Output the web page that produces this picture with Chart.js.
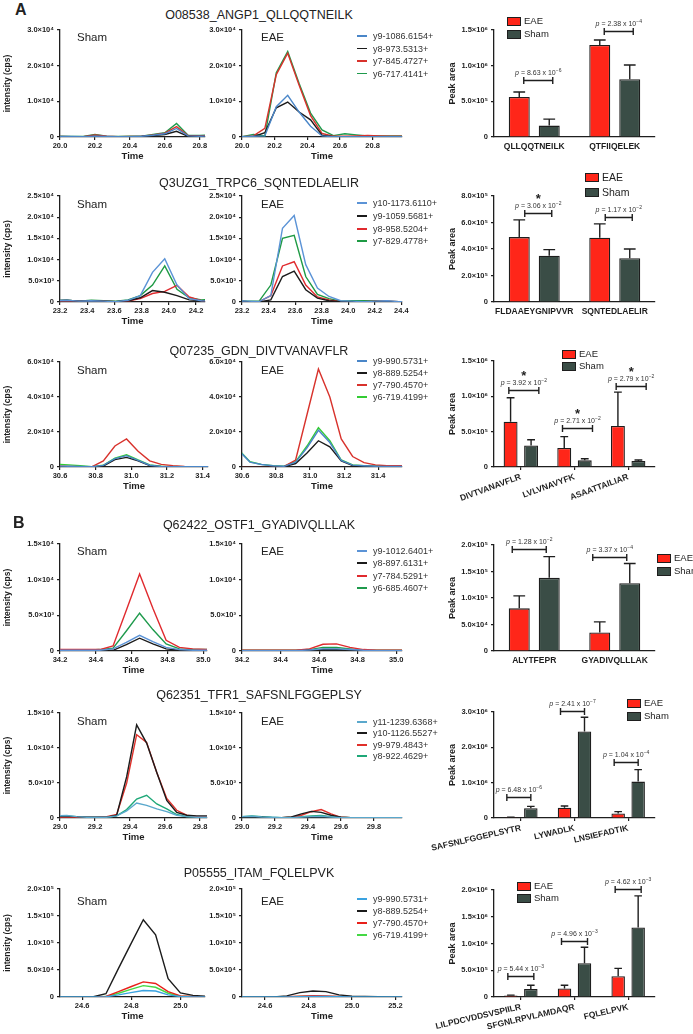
<!DOCTYPE html>
<html>
<head>
<meta charset="utf-8">
<title>MRM chromatograms and peak areas</title>
<script src="https://cdn.jsdelivr.net/npm/chart.js@4.4.1/dist/chart.umd.min.js"></script>
<style>
  body { margin: 0; background: #fff; }
  #fig { position: relative; width: 693px; height: 1034px; overflow: hidden; font-family: "Liberation Sans", Arial, sans-serif; color: #222; }
  #fig canvas { position: absolute; }
  .t { position: absolute; white-space: nowrap; line-height: 1; }
</style>
</head>
<body>
<div id="fig"></div>
<script>
// ---- A1: O08538_ANGP1_QLLQQTNEILK ----
var angp1Ions = ['y9-1086.6154+', 'y8-973.5313+', 'y7-845.4727+', 'y6-717.4141+'];
var angp1ShamTime = [20.0, 20.067, 20.133, 20.2, 20.267, 20.333, 20.4, 20.467, 20.533, 20.6, 20.667, 20.733, 20.8, 20.867];
var angp1ShamY9 = [150, 150, 100, 200, 150, 100, 100, 200, 500, 900, 2400, 300, 200, 300];
var angp1ShamY8 = [100, 100, 100, 150, 100, 100, 100, 150, 400, 700, 1600, 200, 150, 200];
var angp1ShamY7 = [150, 100, 100, 600, 200, 100, 150, 200, 600, 1100, 2900, 400, 300, 400];
var angp1ShamY6 = [200, 150, 150, 700, 200, 150, 200, 250, 700, 1200, 3800, 500, 400, 600];
var angp1EaeTime = [20.0, 20.07, 20.14, 20.21, 20.28, 20.35, 20.42, 20.49, 20.56, 20.63, 20.7, 20.77, 20.84, 20.91, 20.98];
var angp1EaeY9 = [100, 200, 300, 8500, 11700, 7000, 3000, 300, 100, 100, 100, 100, 100, 100, 100];
var angp1EaeY8 = [100, 100, 1200, 8200, 9800, 7000, 4800, 500, 100, 50, 50, 50, 50, 50, 50];
var angp1EaeY7 = [100, 300, 2400, 17500, 23500, 14500, 6000, 1000, 200, 200, 300, 400, 300, 200, 200];
var angp1EaeY6 = [100, 700, 300, 18000, 24000, 15000, 6700, 2000, 400, 900, 600, 300, 300, 300, 300];
var angp1Peptides = ['QLLQQTNEILK', 'QTFIIQELEK'];
var angp1EaeArea = [5.6e5, 1.29e6];
var angp1EaeSem = [0.7e5, 0.7e5];
var angp1ShamArea = [1.6e5, 8.1e5];
var angp1ShamSem = [0.9e5, 2.0e5];
var angp1PValue = ['8.63', '2.38'];
var angp1PExp = ['-6', '-4'];
var angp1PBracket = [8.0e5, 1.49e6];
var angp1Star = [false, false];

// ---- A2: Q3UZG1_TRPC6_SQNTEDLAELIR ----
var trpc6Ions = ['y10-1173.6110+', 'y9-1059.5681+', 'y8-958.5204+', 'y7-829.4778+'];
var trpc6ShamTime = [23.16, 23.25, 23.34, 23.43, 23.52, 23.61, 23.70, 23.79, 23.88, 23.97, 24.06, 24.15, 24.24, 24.33];
var trpc6ShamY10 = [300, 400, 200, 300, 200, 100, 400, 1500, 7000, 10200, 4000, 800, 300, 200];
var trpc6ShamY9 = [300, 400, 200, 300, 200, 100, 300, 1000, 2700, 2300, 1500, 500, 300, 200];
var trpc6ShamY8 = [200, 300, 200, 200, 200, 100, 200, 800, 2000, 2500, 3900, 1200, 300, 100];
var trpc6ShamY7 = [300, 400, 200, 400, 300, 200, 500, 1500, 4000, 8500, 3000, 1000, 500, 700];
var trpc6EaeTime = [23.154, 23.241, 23.329, 23.417, 23.505, 23.593, 23.68, 23.768, 23.855, 23.943, 24.03, 24.118, 24.205, 24.293, 24.38, 24.468];
var trpc6EaeY10 = [300, 200, 100, 1500, 17400, 20400, 8800, 3300, 1300, 300, 200, 100, 200, 300, 100, 100];
var trpc6EaeY9 = [200, 100, 0, 500, 6000, 7300, 2900, 900, 300, 100, 100, 100, 100, 100, 100, 100];
var trpc6EaeY8 = [200, 100, 100, 1500, 8500, 9500, 4000, 1200, 500, 100, 100, 100, 200, 200, 100, 100];
var trpc6EaeY7 = [300, 200, 200, 4000, 15000, 15700, 6000, 1800, 800, 200, 300, 300, 300, 200, 100, 100];
var trpc6Peptides = ['FLDAAEYGNIPVVR', 'SQNTEDLAELIR'];
var trpc6EaeArea = [4.9e5, 4.85e5];
var trpc6EaeSem = [1.3e5, 1.05e5];
var trpc6ShamArea = [3.5e5, 3.3e5];
var trpc6ShamSem = [0.45e5, 0.7e5];
var trpc6PValue = ['3.06', '1.17'];
var trpc6PExp = ['-2', '-2'];
var trpc6PBracket = [6.7e5, 6.4e5];
var trpc6Star = [true, false];

// ---- A3: Q07235_GDN_DIVTVANAVFLR ----
var gdnIons = ['y9-990.5731+', 'y8-889.5254+', 'y7-790.4570+', 'y6-719.4199+'];
var gdnShamTime = [30.583, 30.648, 30.713, 30.778, 30.843, 30.908, 30.973, 31.038, 31.103, 31.168, 31.233, 31.298, 31.363, 31.428, 31.493];
var gdnShamY9 = [500, 400, 300, 200, 900, 4800, 6500, 3800, 1000, 300, 200, 200, 200, 200, 200];
var gdnShamY8 = [100, 100, 100, 100, 500, 4200, 5500, 3500, 800, 200, 100, 100, 100, 100, 100];
var gdnShamY7 = [500, 300, 200, 100, 3500, 12000, 16000, 9000, 3500, 1500, 800, 300, 200, 200, 200];
var gdnShamY6 = [1500, 1200, 800, 200, 1000, 5000, 7000, 4000, 1200, 400, 300, 200, 200, 200, 200];
var gdnEaeTime = [30.58, 30.647, 30.714, 30.781, 30.848, 30.915, 30.982, 31.049, 31.116, 31.183, 31.25, 31.317, 31.384, 31.451, 31.518, 31.585];
var gdnEaeY9 = [9500, 2800, 1400, 700, 400, 2800, 11000, 21000, 14000, 3800, 1100, 700, 400, 300, 300, 300];
var gdnEaeY8 = [0, 0, 0, 0, 200, 2000, 8000, 15000, 11500, 3500, 800, 500, 300, 200, 200, 200];
var gdnEaeY7 = [0, 0, 0, 0, 300, 4000, 30000, 56000, 40000, 16000, 6000, 2500, 1200, 800, 700, 700];
var gdnEaeY6 = [10000, 3000, 1500, 800, 500, 3000, 12000, 22500, 15000, 4000, 1200, 800, 500, 400, 300, 300];
var gdnPeptides = ['DIVTVANAVFLR', 'LVLVNAVYFK', 'ASAATTAILIAR'];
var gdnEaeArea = [6.4e5, 2.7e5, 5.8e5];
var gdnEaeSem = [3.4e5, 1.6e5, 4.8e5];
var gdnShamArea = [3.05e5, 0.94e5, 0.84e5];
var gdnShamSem = [0.8e5, 0.23e5, 0.16e5];
var gdnPValue = ['3.92', '2.71', '2.79'];
var gdnPExp = ['-2', '-2', '-2'];
var gdnPBracket = [1.09e6, 5.5e5, 1.15e6];
var gdnStar = [true, true, true];

// ---- B1: Q62422_OSTF1_GYADIVQLLLAK ----
var ostf1Ions = ['y9-1012.6401+', 'y8-897.6131+', 'y7-784.5291+', 'y6-685.4607+'];
var ostf1ShamTime = [34.2, 34.274, 34.348, 34.422, 34.496, 34.57, 34.644, 34.718, 34.792, 34.866, 34.94, 35.014, 35.088];
var ostf1ShamY9 = [100, 100, 100, 100, 300, 1200, 2200, 1300, 500, 200, 100, 100, 100];
var ostf1ShamY8 = [0, 0, 0, 0, 100, 900, 1800, 1000, 300, 100, 50, 50, 50];
var ostf1ShamY7 = [200, 200, 200, 200, 700, 5700, 10800, 6000, 1500, 500, 300, 200, 200];
var ostf1ShamY6 = [100, 100, 100, 200, 400, 2800, 5300, 3000, 1000, 300, 200, 200, 200];
var ostf1EaeTime = [34.2, 34.27, 34.34, 34.41, 34.48, 34.55, 34.62, 34.69, 34.76, 34.83, 34.9, 34.97, 35.04];
var ostf1EaeY9 = [50, 50, 50, 50, 50, 150, 300, 300, 200, 100, 50, 50, 50];
var ostf1EaeY8 = [0, 0, 0, 0, 0, 100, 200, 200, 100, 50, 0, 0, 0];
var ostf1EaeY7 = [100, 100, 100, 100, 100, 300, 950, 1000, 500, 200, 100, 100, 100];
var ostf1EaeY6 = [100, 100, 100, 100, 100, 200, 500, 500, 300, 100, 100, 100, 100];
var ostf1Peptides = ['ALYTFEPR', 'GYADIVQLLLAK'];
var ostf1EaeArea = [8.05e4, 3.5e4];
var ostf1EaeSem = [2.35e4, 2.0e4];
var ostf1ShamArea = [1.38e5, 1.28e5];
var ostf1ShamSem = [4.0e4, 3.7e4];
var ostf1PValue = ['1.28', '3.37'];
var ostf1PExp = ['-2', '-4'];
var ostf1PBracket = [1.92e5, 1.77e5];
var ostf1Star = [false, false];

// ---- B2: Q62351_TFR1_SAFSNLFGGEPLSY ----
var tfr1Ions = ['y11-1239.6368+', 'y10-1126.5527+', 'y9-979.4843+', 'y8-922.4629+'];
var tfr1ShamTime = [28.982, 29.039, 29.096, 29.153, 29.21, 29.267, 29.324, 29.381, 29.438, 29.495, 29.553, 29.61, 29.667, 29.724, 29.781, 29.838, 29.895];
var tfr1ShamY11 = [300, 350, 200, 100, 100, 100, 300, 1000, 2150, 1800, 1300, 900, 400, 200, 100, 100, 100];
var tfr1ShamY10 = [200, 200, 200, 100, 100, 100, 400, 5900, 13300, 10700, 6500, 2500, 800, 400, 300, 300, 300];
var tfr1ShamY9 = [100, 100, 100, 100, 100, 200, 500, 5000, 11900, 10800, 6500, 2800, 1100, 400, 200, 200, 200];
var tfr1ShamY8 = [300, 300, 200, 100, 100, 100, 300, 1200, 2700, 3250, 2000, 1300, 500, 200, 200, 200, 200];
var tfr1EaeTime = [29.0, 29.06, 29.12, 29.18, 29.24, 29.3, 29.36, 29.42, 29.48, 29.54, 29.6, 29.66, 29.72, 29.78, 29.84, 29.9, 29.96, 30.02];
var tfr1EaeY11 = [200, 250, 150, 100, 50, 50, 150, 200, 250, 150, 50, 50, 50, 50, 50, 50, 50, 50];
var tfr1EaeY10 = [100, 100, 100, 50, 50, 150, 600, 950, 800, 400, 100, 50, 50, 50, 50, 50, 50, 50];
var tfr1EaeY9 = [100, 50, 50, 50, 50, 100, 400, 900, 1200, 600, 100, 50, 50, 50, 50, 50, 50, 50];
var tfr1EaeY8 = [200, 300, 200, 100, 50, 100, 200, 300, 350, 200, 100, 50, 50, 50, 50, 50, 50, 50];
var tfr1Peptides = ['SAFSNLFGGEPLSYTR', 'LYWADLK', 'LNSIEFADTIK'];
var tfr1EaeArea = [2.0e4, 2.9e5, 1.3e5];
var tfr1EaeSem = [0.5e4, 0.5e5, 0.5e5];
var tfr1ShamArea = [2.75e5, 2.45e6, 1.03e6];
var tfr1ShamSem = [0.55e5, 0.4e6, 0.34e6];
var tfr1PValue = ['6.48', '2.41', '1.04'];
var tfr1PExp = ['-6', '-7', '-4'];
var tfr1PBracket = [5.9e5, 3.03e6, 1.58e6];
var tfr1Star = [false, false, false];

// ---- B3: P05555_ITAM_FQLELPVK ----
var itamIons = ['y9-990.5731+', 'y8-889.5254+', 'y7-790.4570+', 'y6-719.4199+'];
var itamShamTime = [24.494, 24.545, 24.596, 24.646, 24.697, 24.748, 24.798, 24.849, 24.899, 24.95, 25.0, 25.051, 25.102];
var itamShamY9 = [0, 0, 0, 0, 500, 4000, 8000, 12000, 11000, 4000, 800, 300, 200];
var itamShamY8 = [0, 0, 0, 500, 6000, 53000, 98000, 143000, 115000, 34000, 7500, 3000, 1500];
var itamShamY7 = [0, 0, 0, 0, 1000, 10000, 19000, 28000, 25000, 10000, 2000, 800, 500];
var itamShamY6 = [0, 0, 0, 0, 800, 7000, 14000, 21000, 18000, 7000, 1500, 600, 400];
var itamEaeTime = [24.46, 24.52, 24.58, 24.64, 24.70, 24.76, 24.82, 24.88, 24.94, 25.0, 25.06, 25.12, 25.18, 25.24];
var itamEaeY9 = [0, 0, 0, 0, 200, 600, 900, 800, 400, 200, 100, 100, 100, 100];
var itamEaeY8 = [0, 0, 0, 200, 2000, 8000, 11000, 10000, 4000, 1500, 800, 500, 300, 300];
var itamEaeY7 = [0, 0, 0, 0, 500, 1500, 2500, 2000, 1000, 400, 200, 200, 200, 200];
var itamEaeY6 = [0, 0, 0, 0, 300, 1000, 1500, 1200, 700, 300, 200, 200, 200, 200];
var itamPeptides = ['LILPDCVDDSVSPIILR', 'SFGNLRPVLAMDAQR', 'FQLELPVK'];
var itamEaeArea = [3.0e4, 1.6e5, 3.9e5];
var itamEaeSem = [0.5e4, 0.6e5, 1.45e5];
var itamShamArea = [1.5e5, 6.3e5, 1.3e6];
var itamShamSem = [0.7e5, 3.0e5, 0.59e6];
var itamPValue = ['5.44', '4.96', '4.62'];
var itamPExp = ['-3', '-3', '-3'];
var itamPBracket = [3.9e5, 1.05e6, 2.02e6];
var itamStar = [false, false, false];

// ---- styles ----
var FONT = '"Liberation Sans", Arial, Helvetica, sans-serif';
var INK = '#1e1e1e';
var EAE_FILL = '#ff2619';
var SHAM_FILL = '#3a4d46';
var tickFont = { family: FONT, size: 7.5, weight: 'bold' };
var catFont = { family: FONT, size: 8.5, weight: 'bold' };
var axisTitleFont = { family: FONT, size: 9, weight: 'bold' };
var colorsA = ['#4a86c8', '#1b1b1b', '#d8322c', '#1e9a4c'];
var colorsA2 = ['#5b93d6', '#1b1b1b', '#e02a2e', '#1e9a44'];
var colorsA3 = ['#4a86c8', '#1b1b1b', '#d8322c', '#33cc33'];
var colorsB1 = ['#5b93d6', '#1b1b1b', '#e02a2e', '#1e9a4c'];
var colorsB2 = ['#5aa8cc', '#1b1b1b', '#e0302a', '#1ea878'];
var colorsB3 = ['#3aa2e0', '#1b1b1b', '#e8201a', '#44d844'];

var fig = document.getElementById('fig');

function addText(txt, x, y, css) {
  var d = document.createElement('div');
  d.className = 't';
  d.textContent = txt;
  d.style.cssText = 'left:' + x + 'px;top:' + y + 'px;' + css;
  fig.appendChild(d);
  return d;
}

function makeCanvas(l, t, w, h) {
  var c = document.createElement('canvas');
  c.width = w; c.height = h;
  c.style.left = l + 'px'; c.style.top = t + 'px';
  c.style.width = w + 'px'; c.style.height = h + 'px';
  fig.appendChild(c);
  return c;
}

function sup(s) {
  var m = { '-': '⁻', '0': '⁰', '1': '¹', '2': '²', '3': '³', '4': '⁴', '5': '⁵', '6': '⁶', '7': '⁷', '8': '⁸', '9': '⁹' };
  return String(s).split('').map(function (c) { return m[c]; }).join('');
}

function sci(v) {
  if (Math.abs(v) < 1e-9) return '0';
  var e = Math.floor(Math.log10(v) + 1e-9);
  return (v / Math.pow(10, e)).toFixed(1) + '×10' + sup(e);
}

// pin a scale to a fixed size and drop the auto label padding
function fixSize(w, h) {
  return function (s) {
    if (w) s.width = w;
    if (h) s.height = h;
    s.paddingLeft = 0; s.paddingRight = 0; s.paddingTop = 0; s.paddingBottom = 0;
  };
}

var gridStyle = { drawOnChartArea: false, drawTicks: true, tickLength: 3, color: INK, lineWidth: 1.2 };
var borderStyle = { display: true, color: INK, width: 1.3 };

function lineChart(box, yW, xr, yr, time, series, colors, yTitle) {
  var padT = 8, padR = 8, xH = 26;
  var c = makeCanvas(box.l - yW, box.t - padT, yW + box.r - box.l + padR, padT + box.b - box.t + xH);
  new Chart(c, {
    type: 'line',
    data: {
      datasets: series.map(function (s, i) {
        return {
          data: time.map(function (t, k) { return { x: t, y: s[k] }; }),
          borderColor: colors[i], borderWidth: 1.4, pointRadius: 0, tension: 0, fill: false
        };
      })
    },
    options: {
      responsive: false, animation: false, events: [],
      layout: { padding: { top: padT, right: padR, left: 0, bottom: 0 }, autoPadding: false },
      plugins: { legend: { display: false }, tooltip: { enabled: false } },
      scales: {
        x: {
          type: 'linear', min: xr[0], max: xr[1],
          afterFit: fixSize(0, xH),
          ticks: { stepSize: 0.2, includeBounds: false, font: tickFont, color: INK, padding: 1, maxRotation: 0, autoSkip: false,
                   callback: function (v) { return Number(v).toFixed(1); } },
          grid: gridStyle, border: borderStyle,
          title: { display: true, text: 'Time', font: { family: FONT, size: 9.5, weight: 'bold' }, color: INK, padding: { top: 0, bottom: 1 } }
        },
        y: {
          min: 0, max: yr[0],
          afterFit: fixSize(yW, 0),
          ticks: { stepSize: yr[1], font: tickFont, color: INK, padding: 3, callback: sci },
          grid: gridStyle, border: borderStyle,
          title: { display: !!yTitle, text: yTitle, font: { family: FONT, size: 8.5, weight: 'bold' }, color: INK, padding: { top: 3, bottom: 0 } }
        }
      }
    }
  });
}

function barExtras(b) {
  return {
    id: 'barExtras',
    afterDatasetsDraw: function (chart) {
      var ctx = chart.ctx, ys = chart.scales.y, xs = chart.scales.x;
      ctx.save();
      ctx.strokeStyle = INK; ctx.lineWidth = 1.4;
      chart.data.datasets.forEach(function (ds, i) {
        chart.getDatasetMeta(i).data.forEach(function (bar, j) {
          var yt = ys.getPixelForValue(ds.data[j] + ds.err[j]);
          var cw = bar.width * 0.28;
          ctx.beginPath();
          ctx.moveTo(bar.x, bar.y); ctx.lineTo(bar.x, yt);
          ctx.moveTo(bar.x - cw, yt); ctx.lineTo(bar.x + cw, yt);
          ctx.stroke();
        });
      });
      b.pb.forEach(function (v, j) {
        var cx = xs.getPixelForValue(j) + b.shift, y = Math.round(ys.getPixelForValue(v)) + 0.5;
        ctx.beginPath();
        ctx.moveTo(cx - b.hw, y); ctx.lineTo(cx + b.hw, y);
        ctx.moveTo(cx - b.hw, y - 3.5); ctx.lineTo(cx - b.hw, y + 3.5);
        ctx.moveTo(cx + b.hw, y - 3.5); ctx.lineTo(cx + b.hw, y + 3.5);
        ctx.stroke();
        var s1 = 'p', s2 = ' = ' + b.pv[j] + ' x 10', s3 = b.pe[j].replace('-', '−');
        var f1 = 'italic 7px ' + FONT, f2 = '7px ' + FONT, f3 = '5px ' + FONT;
        ctx.font = f1; var w1 = ctx.measureText(s1).width;
        ctx.font = f2; var w2 = ctx.measureText(s2).width;
        ctx.font = f3; var w3 = ctx.measureText(s3).width;
        var x = cx - (w1 + w2 + w3) / 2, ty = y - 6;
        ctx.fillStyle = '#333'; ctx.textAlign = 'left'; ctx.textBaseline = 'alphabetic';
        ctx.font = f1; ctx.fillText(s1, x, ty);
        ctx.font = f2; ctx.fillText(s2, x + w1, ty);
        ctx.font = f3; ctx.fillText(s3, x + w1 + w2, ty - 3);
        if (b.star[j]) {
          ctx.font = 'bold 13px ' + FONT; ctx.textAlign = 'center'; ctx.fillStyle = INK;
          ctx.fillText('*', cx, y - 11);
        }
      });
      ctx.restore();
    }
  };
}

function barChart(box, b) {
  // wide left box so the slanted peptide names are not cut; the title is pushed back to the axis
  var yW = 72, padT = 26, padR = 4, xH = b.rot ? 50 : 26;
  var c = makeCanvas(box.l - yW, box.t - padT, yW + box.r - box.l + padR, padT + box.b - box.t + xH);
  var common = { borderColor: INK, borderWidth: 1.3, borderSkipped: 'bottom', categoryPercentage: b.catPct, barPercentage: b.barPct };
  new Chart(c, {
    type: 'bar',
    data: {
      labels: b.cats,
      datasets: [
        Object.assign({ label: 'EAE', data: b.eae, err: b.eaeSem, backgroundColor: EAE_FILL }, common),
        Object.assign({ label: 'Sham', data: b.sham, err: b.shamSem, backgroundColor: SHAM_FILL }, common)
      ]
    },
    plugins: [barExtras(b)],
    options: {
      responsive: false, animation: false, events: [],
      layout: { padding: { top: padT, right: padR, left: 0, bottom: 0 }, autoPadding: false },
      plugins: { legend: { display: false }, tooltip: { enabled: false } },
      scales: {
        x: {
          afterFit: fixSize(0, xH),
          ticks: { font: catFont, color: INK, padding: 2, autoSkip: false, minRotation: b.rot, maxRotation: b.rot },
          grid: { drawOnChartArea: false, drawTicks: true, tickLength: 3, offset: false, color: b.centerTicks ? INK : 'rgba(0,0,0,0)', lineWidth: 1.2 },
          border: borderStyle
        },
        y: {
          min: 0, max: b.yMax,
          afterFit: fixSize(yW, 0),
          ticks: { stepSize: b.yStep, font: tickFont, color: INK, padding: 3, callback: sci },
          grid: gridStyle, border: borderStyle,
          title: { display: true, text: 'Peak area', font: axisTitleFont, color: INK, padding: { top: 25, bottom: 0 } }
        }
      }
    }
  });
  // legend
  ['EAE', 'Sham'].forEach(function (name, i) {
    var y = b.leg.y[i];
    var sw = document.createElement('div');
    sw.style.cssText = 'position:absolute;left:' + b.leg.x + 'px;top:' + (y - 4) + 'px;width:12px;height:7px;border:1px solid ' + INK + ';background:' + (i ? SHAM_FILL : EAE_FILL) + ';';
    fig.appendChild(sw);
    addText(name, b.leg.x + 17, y, 'font-size:' + b.leg.size + 'px;transform:translateY(-50%);');
  });
}

var rows = [
  { label: 'A', labelPos: [15, 2], title: 'O08538_ANGP1_QLLQQTNEILK', ty: 15, t: 30, b: 137, bt: 30, bb: 137, shamR: 205, nameY: 38,
    shamX: [20.0, 20.83], eaeX: [20.0, 20.98], yr: [3e4, 1e4], colors: colorsA, ions: angp1Ions, legY: [36, 48.5, 61, 73.5],
    shamTime: angp1ShamTime, shamSeries: [angp1ShamY9, angp1ShamY8, angp1ShamY7, angp1ShamY6],
    eaeTime: angp1EaeTime, eaeSeries: [angp1EaeY9, angp1EaeY8, angp1EaeY7, angp1EaeY6],
    bar: { cats: angp1Peptides, eae: angp1EaeArea, eaeSem: angp1EaeSem, sham: angp1ShamArea, shamSem: angp1ShamSem,
           pv: angp1PValue, pe: angp1PExp, pb: angp1PBracket, star: angp1Star, yMax: 1.5e6, yStep: 5e5,
           rot: 0, catPct: 0.745, barPct: 0.7, hw: 14.5, shift: 4, centerTicks: false, leg: { x: 507, y: [21, 33.5], size: 9.5 } } },
  { title: 'Q3UZG1_TRPC6_SQNTEDLAELIR', ty: 183, t: 196, b: 302, bt: 196, bb: 302, shamR: 205, nameY: 205,
    shamX: [23.2, 24.266], eaeX: [23.2, 24.405], yr: [2.5e4, 5e3], colors: colorsA2, ions: trpc6Ions, legY: [203, 216, 229, 241],
    shamTime: trpc6ShamTime, shamSeries: [trpc6ShamY10, trpc6ShamY9, trpc6ShamY8, trpc6ShamY7],
    eaeTime: trpc6EaeTime, eaeSeries: [trpc6EaeY10, trpc6EaeY9, trpc6EaeY8, trpc6EaeY7],
    bar: { cats: trpc6Peptides, eae: trpc6EaeArea, eaeSem: trpc6EaeSem, sham: trpc6ShamArea, shamSem: trpc6ShamSem,
           pv: trpc6PValue, pe: trpc6PExp, pb: trpc6PBracket, star: trpc6Star, yMax: 8e5, yStep: 2e5,
           rot: 0, catPct: 0.745, barPct: 0.7, hw: 13.5, shift: 4, centerTicks: false, leg: { x: 585, y: [177, 192], size: 10.5 } } },
  { title: 'Q07235_GDN_DIVTVANAVFLR', ty: 351, t: 362, b: 467, bt: 361, bb: 467, shamR: 208, nameY: 371,
    shamX: [30.6, 31.43], eaeX: [30.6, 31.54], yr: [6e4, 2e4], colors: colorsA3, ions: gdnIons, legY: [361, 373, 385, 397],
    shamTime: gdnShamTime, shamSeries: [gdnShamY9, gdnShamY8, gdnShamY7, gdnShamY6],
    eaeTime: gdnEaeTime, eaeSeries: [gdnEaeY9, gdnEaeY8, gdnEaeY7, gdnEaeY6],
    bar: { cats: gdnPeptides, eae: gdnEaeArea, eaeSem: gdnEaeSem, sham: gdnShamArea, shamSem: gdnShamSem,
           pv: gdnPValue, pe: gdnPExp, pb: gdnPBracket, star: gdnStar, yMax: 1.5e6, yStep: 5e5,
           rot: 20, catPct: 0.764, barPct: 0.68, hw: 15, shift: 3, centerTicks: true, leg: { x: 562, y: [354, 366], size: 9.5 } } },
  { label: 'B', labelPos: [13, 515], title: 'Q62422_OSTF1_GYADIVQLLLAK', ty: 525, t: 544, b: 651, bt: 545, bb: 651, shamR: 207, nameY: 552,
    shamX: [34.2, 35.02], eaeX: [34.2, 35.03], yr: [1.5e4, 5e3], colors: colorsB1, ions: ostf1Ions, legY: [551, 563, 576, 588],
    shamTime: ostf1ShamTime, shamSeries: [ostf1ShamY9, ostf1ShamY8, ostf1ShamY7, ostf1ShamY6],
    eaeTime: ostf1EaeTime, eaeSeries: [ostf1EaeY9, ostf1EaeY8, ostf1EaeY7, ostf1EaeY6],
    bar: { cats: ostf1Peptides, eae: ostf1EaeArea, eaeSem: ostf1EaeSem, sham: ostf1ShamArea, shamSem: ostf1ShamSem,
           pv: ostf1PValue, pe: ostf1PExp, pb: ostf1PBracket, star: ostf1Star, yMax: 2e5, yStep: 5e4,
           rot: 0, catPct: 0.745, barPct: 0.7, hw: 17, shift: -5, centerTicks: false, leg: { x: 657, y: [558, 571], size: 9.5 } } },
  { title: 'Q62351_TFR1_SAFSNLFGGEPLSY', ty: 695, t: 713, b: 818, bt: 712, bb: 818, shamR: 207, nameY: 722,
    shamX: [29.0, 29.84], eaeX: [29.0, 29.97], yr: [1.5e4, 5e3], colors: colorsB2, ions: tfr1Ions, legY: [722, 733, 745, 756],
    shamTime: tfr1ShamTime, shamSeries: [tfr1ShamY11, tfr1ShamY10, tfr1ShamY9, tfr1ShamY8],
    eaeTime: tfr1EaeTime, eaeSeries: [tfr1EaeY11, tfr1EaeY10, tfr1EaeY9, tfr1EaeY8],
    bar: { cats: tfr1Peptides, eae: tfr1EaeArea, eaeSem: tfr1EaeSem, sham: tfr1ShamArea, shamSem: tfr1ShamSem,
           pv: tfr1PValue, pe: tfr1PExp, pb: tfr1PBracket, star: tfr1Star, yMax: 3e6, yStep: 1e6,
           rot: 13, catPct: 0.745, barPct: 0.675, hw: 12, shift: -2, centerTicks: true, leg: { x: 627, y: [703, 715.5], size: 9.5 } } },
  { title: 'P05555_ITAM_FQLELPVK', ty: 873, t: 889, b: 997, bt: 890, bb: 997, shamR: 205, nameY: 902,
    shamX: [24.51, 25.1], eaeX: [24.494, 25.23], yr: [2e5, 5e4], colors: colorsB3, ions: itamIons, legY: [899, 911, 923, 935],
    shamTime: itamShamTime, shamSeries: [itamShamY9, itamShamY8, itamShamY7, itamShamY6],
    eaeTime: itamEaeTime, eaeSeries: [itamEaeY9, itamEaeY8, itamEaeY7, itamEaeY6],
    bar: { cats: itamPeptides, eae: itamEaeArea, eaeSem: itamEaeSem, sham: itamShamArea, shamSem: itamShamSem,
           pv: itamPValue, pe: itamPExp, pb: itamPBracket, star: itamStar, yMax: 2e6, yStep: 5e5,
           rot: 13, catPct: 0.745, barPct: 0.675, hw: 13, shift: 0, centerTicks: true, leg: { x: 517, y: [886, 898], size: 9.5 } } }
];

rows.forEach(function (r) {
  if (r.label) addText(r.label, r.labelPos[0], r.labelPos[1], 'font-size:16px;font-weight:bold;');
  addText(r.title, 259, r.ty, 'font-size:12.5px;transform:translate(-50%,-50%);');
  lineChart({ l: 60, r: r.shamR, t: r.t, b: r.b }, 60, r.shamX, r.yr, r.shamTime, r.shamSeries, r.colors, 'intensity (cps)');
  lineChart({ l: 242, r: 402, t: r.t, b: r.b }, 45, r.eaeX, r.yr, r.eaeTime, r.eaeSeries, r.colors, '');
  addText('Sham', 77, r.nameY, 'font-size:11.5px;transform:translateY(-50%);');
  addText('EAE', 261, r.nameY, 'font-size:11.5px;transform:translateY(-50%);');
  r.ions.forEach(function (ion, i) {
    var ln = document.createElement('div');
    ln.style.cssText = 'position:absolute;left:357px;top:' + (r.legY[i] - 0.75) + 'px;width:10px;height:1.5px;background:' + r.colors[i] + ';';
    fig.appendChild(ln);
    addText(ion, 373, r.legY[i], 'font-size:9px;color:#333;transform:translateY(-50%);');
  });
  barChart({ l: 494, r: 655, t: r.bt, b: r.bb }, r.bar);
});
</script>
</body>
</html>
